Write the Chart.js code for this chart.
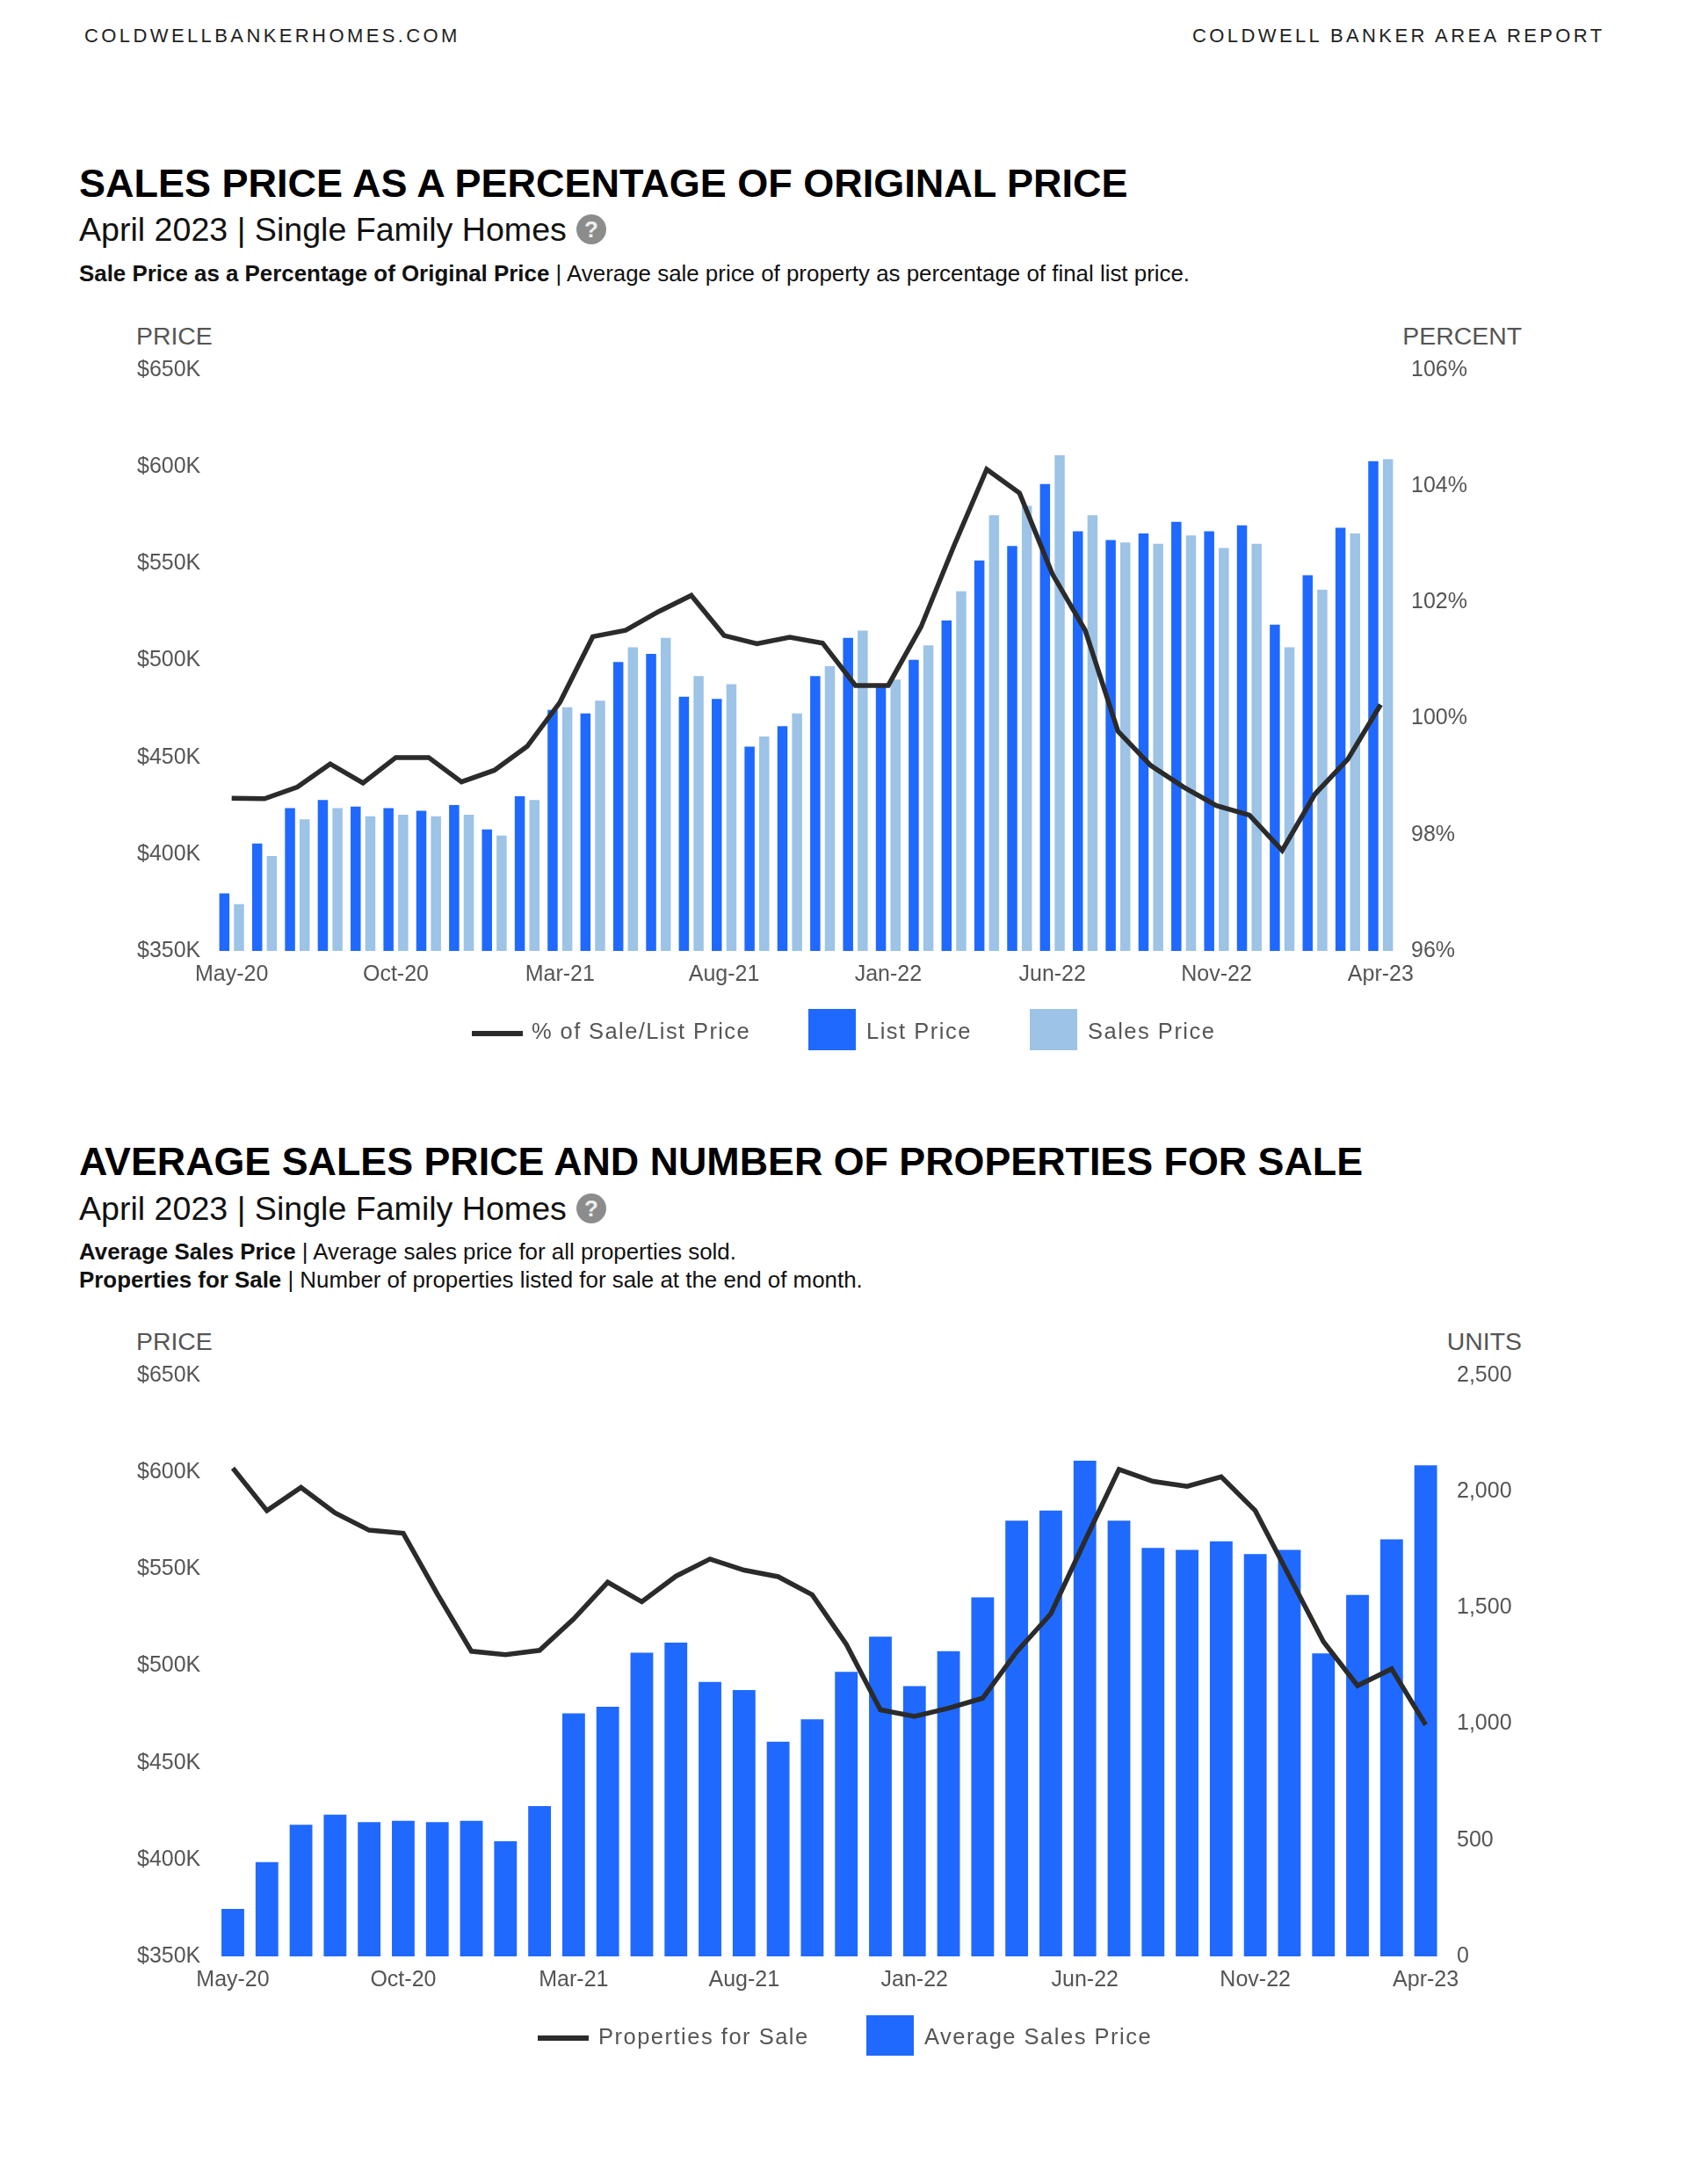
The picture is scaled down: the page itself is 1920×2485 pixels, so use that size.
<!DOCTYPE html>
<html><head><meta charset="utf-8">
<script src="https://cdn.jsdelivr.net/npm/chart.js@4"></script>
<style>
html,body{margin:0;padding:0;background:#fff}
body{position:relative;width:1920px;height:2485px;overflow:hidden;font-family:"Liberation Sans",Arial,sans-serif;color:#000}
.t{position:absolute;white-space:nowrap;line-height:1;transform:translateY(-50%)}
.hdr{font-size:22px;letter-spacing:3.4px;color:#222}
.title{font-size:45px;font-weight:bold;left:90px}
.sub{font-size:37.6px;left:90px;color:#111}
.desc{font-size:25.9px;left:90px;color:#111}
.axt{font-size:28.4px;color:#555}
.leg{font-size:25.5px;color:#555;letter-spacing:1.5px}
.sw{position:absolute}
.help{position:absolute;width:34px;height:34px;border-radius:50%;background:#8c8c8c;color:#eee;font:bold 26px/34px "Liberation Sans",Arial,sans-serif;text-align:center}
canvas{position:absolute;left:0}
</style></head><body>
<div class="t hdr" style="left:96px;top:41px">COLDWELLBANKERHOMES.COM</div>
<div class="t hdr" style="left:1357px;top:41px">COLDWELL BANKER AREA REPORT</div>

<div class="t title" style="top:207.5px">SALES PRICE AS A PERCENTAGE OF ORIGINAL PRICE</div>
<div class="t sub" style="top:262px">April 2023 | Single Family Homes</div>
<div class="help" style="left:656px;top:244px">?</div>
<div class="t desc" style="top:312px"><b>Sale Price as a Percentage of Original Price</b> | Average sale price of property as percentage of final list price.</div>
<div class="t axt" style="left:155px;top:382px">PRICE</div>
<div class="t axt" style="right:188px;top:382px">PERCENT</div>
<canvas id="c1" width="1920" height="770" style="top:390px"></canvas>
<div class="sw" style="left:537px;top:1173px;width:58px;height:6px;background:#2b2b2b"></div>
<div class="t leg" style="left:605px;top:1174px;letter-spacing:1.4px">% of Sale/List Price</div>
<div class="sw" style="left:920px;top:1148px;width:54px;height:47px;background:#1f69ff"></div>
<div class="t leg" style="left:986px;top:1174px">List Price</div>
<div class="sw" style="left:1172px;top:1148px;width:54px;height:47px;background:#9dc3e6"></div>
<div class="t leg" style="left:1238px;top:1174px">Sales Price</div>

<div class="t title" style="top:1321px;font-size:44.8px">AVERAGE SALES PRICE AND NUMBER OF PROPERTIES FOR SALE</div>
<div class="t sub" style="top:1376px">April 2023 | Single Family Homes</div>
<div class="help" style="left:656px;top:1358px">?</div>
<div class="t desc" style="top:1424.5px"><b>Average Sales Price</b> | Average sales price for all properties sold.</div>
<div class="t desc" style="top:1456.5px"><b>Properties for Sale</b> | Number of properties listed for sale at the end of month.</div>
<div class="t axt" style="left:155px;top:1526px">PRICE</div>
<div class="t axt" style="right:188px;top:1526px">UNITS</div>
<canvas id="c2" width="1920" height="770" style="top:1534px"></canvas>
<div class="sw" style="left:612px;top:2316px;width:58px;height:6px;background:#2b2b2b"></div>
<div class="t leg" style="left:681px;top:2318px">Properties for Sale</div>
<div class="sw" style="left:986px;top:2293px;width:54px;height:46px;background:#1f69ff"></div>
<div class="t leg" style="left:1052px;top:2318px">Average Sales Price</div>

<script>
const months = ["May-20","Jun-20","Jul-20","Aug-20","Sep-20","Oct-20","Nov-20","Dec-20","Jan-21","Feb-21","Mar-21","Apr-21","May-21","Jun-21","Jul-21","Aug-21","Sep-21","Oct-21","Nov-21","Dec-21","Jan-22","Feb-22","Mar-22","Apr-22","May-22","Jun-22","Jul-22","Aug-22","Sep-22","Oct-22","Nov-22","Dec-22","Jan-23","Feb-23","Mar-23","Apr-23"];
const listPrice = [379.7,405.5,423.7,427.9,424.5,423.7,422.4,425.3,412.8,429.9,474.5,472.7,499.2,503.4,481.3,480.2,455.5,466.1,491.9,511.7,487,500.3,520.6,551.6,559.1,591.1,566.7,562.2,565.6,571.6,566.7,569.8,518.5,544,568.5,602.9];
const salesPrice = [374.2,399,418,423.7,419.5,420.3,419.5,420.3,409.6,427.9,475.8,479.2,506.8,511.7,491.9,487.8,460.7,472.7,497.1,515.4,490.1,507.8,535.7,575,579.9,606,575,560.9,560.2,564.6,558.1,560.2,506.8,536.5,565.6,603.9];
const pctSaleList = [98.63,98.62,98.82,99.22,98.89,99.33,99.33,98.91,99.11,99.52,100.28,101.41,101.52,101.84,102.12,101.43,101.29,101.40,101.30,100.57,100.57,101.58,102.97,104.29,103.88,102.49,101.52,99.78,99.19,98.82,98.5,98.34,97.73,98.70,99.30,100.24];
const avgSalesPrice = [374.5,398.7,418,423.2,419.3,420,419.3,420,409.4,427.6,475.5,478.9,506.8,512,491.7,487.5,460.9,472.4,496.9,515.1,489.6,507.6,535.4,575,580.2,606,575,560.9,559.9,564.3,557.8,559.9,506.5,536.7,565.4,603.6];
const propertiesForSale = [2101,1918,2018,1908,1834,1821,1560,1313,1298,1317,1452,1610,1526,1636,1710,1662,1634,1556,1343,1061,1033,1068,1111,1311,1474,1788,2096,2044,2023,2064,1918,1636,1354,1165,1237,996];

const BLUE = "#1f69ff", LIGHT = "#9dc3e6", DARK = "#2b2b2b", TICK = "#555";
const tickFont = {family:"'Liberation Sans',Arial,sans-serif", size:25};

function build(id, datasets, rightCfg, leftPad, leftW, rightPadCanvas){
  return new Chart(document.getElementById(id), {
    data:{labels:months, datasets},
    options:{
      responsive:false, animation:false, events:[],
      layout:{autoPadding:false, padding:{left:leftPad, right:rightPadCanvas, top:21, bottom:28}},
      plugins:{legend:{display:false}, tooltip:{enabled:false}},
      scales:{
        x:{grid:{display:false,drawTicks:false}, border:{display:false},
           afterFit:s=>{s.height=50},
           ticks:{autoSkip:false,maxRotation:0,minRotation:0,padding:12,color:TICK,font:tickFont,
                  callback:function(v,i){return i%5===0?months[i]:""}}},
        y:{position:"left",min:350,max:650,grid:{display:false,drawTicks:false},border:{display:false},
           afterFit:s=>{s.width=leftW},
           ticks:{stepSize:50,crossAlign:"far",padding:0,color:TICK,font:tickFont,callback:v=>"$"+v+"K"}},
        y1:{position:"right",min:rightCfg.min,max:rightCfg.max,grid:{display:false,drawTicks:false},border:{display:false},
           afterFit:s=>{s.width=100},
           ticks:{stepSize:rightCfg.step,padding:16,color:TICK,font:tickFont,callback:rightCfg.fmt}}
      }
    }
  });
}
const lineDs = (label,data)=>({type:"line",label,data,yAxisID:"y1",order:0,borderColor:DARK,borderWidth:5.5,pointRadius:0,tension:0,fill:false,borderJoinStyle:"miter"});

build("c1",[
  lineDs("% of Sale/List Price",pctSaleList),
  {type:"bar",label:"List Price",data:listPrice,yAxisID:"y",order:1,backgroundColor:BLUE,categoryPercentage:.892,barPercentage:.69},
  {type:"bar",label:"Sales Price",data:salesPrice,yAxisID:"y",order:1,backgroundColor:LIGHT,categoryPercentage:.892,barPercentage:.69}
],{min:96,max:106,step:2,fmt:v=>v+"%"},156,89,230);

build("c2",[
  lineDs("Properties for Sale",propertiesForSale),
  {type:"bar",label:"Average Sales Price",data:avgSalesPrice,yAxisID:"y",order:1,backgroundColor:BLUE,categoryPercentage:1,barPercentage:.666}
],{min:0,max:2500,step:500,fmt:v=>v.toLocaleString("en-US")},156,89.6,178);
</script>
</body></html>
